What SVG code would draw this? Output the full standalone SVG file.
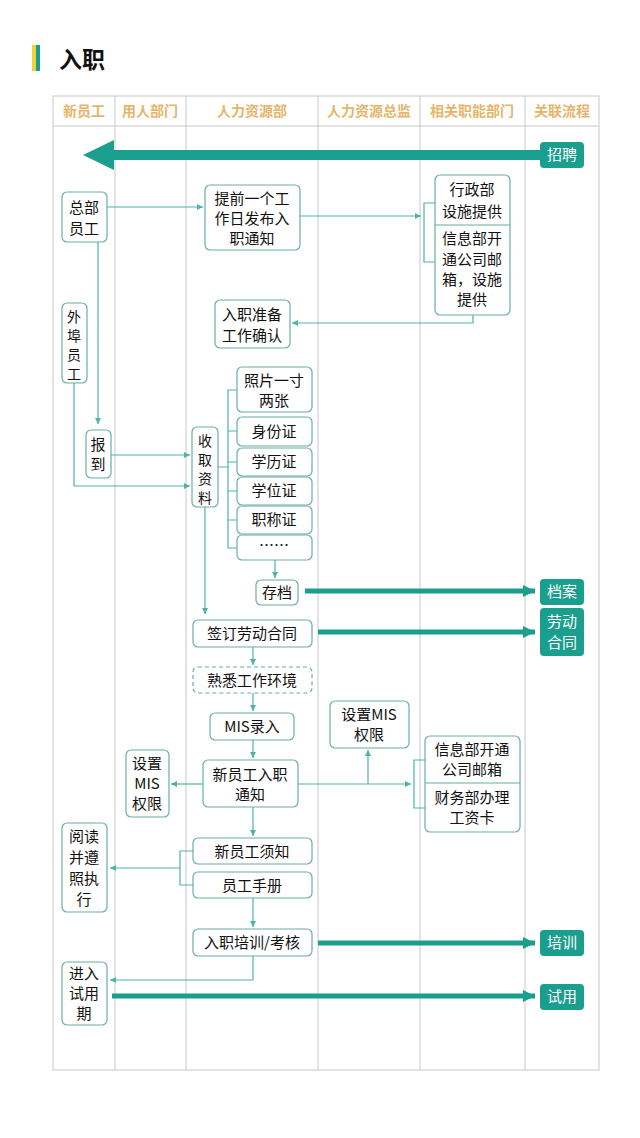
<svg xmlns="http://www.w3.org/2000/svg" width="640" height="1138" viewBox="0 0 640 1138">
<defs>
<linearGradient id="tg" x1="0" x2="1"><stop offset="0.5" stop-color="#f2d23a"/><stop offset="0.5" stop-color="#17a08c"/></linearGradient>
<marker id="a" markerWidth="8" markerHeight="8" refX="6" refY="3" orient="auto" markerUnits="userSpaceOnUse"><path d="M0,0 L6,3 L0,6 z" fill="#4fb3a8"/></marker>
<marker id="b" markerWidth="14" markerHeight="14" refX="12" refY="6" orient="auto" markerUnits="userSpaceOnUse"><path d="M0,0 L12,6 L0,12 z" fill="#1a9e8e"/></marker>
<style>
text{font-family:"Noto Sans CJK SC","Noto Sans",sans-serif;font-size:15px;fill:#111;text-anchor:middle}
.h{fill:#e5b56a;font-size:14px;font-weight:bold}
.n{fill:#fff;stroke:#6aaea4;stroke-width:1.2}
.v{font-size:14px}
.d{stroke-dasharray:4 3}
.bd{fill:#1a9e8e;stroke:none}
.bt{fill:#fff;font-size:15px}
.l{fill:none;stroke:#4fb3a8;stroke-width:1.2}
.t{fill:none;stroke:#1a9e8e;stroke-width:5}
.g{stroke:#c8c8c8;stroke-width:1;fill:none}
</style>
</defs>
<rect x="32" y="45" width="8" height="26" fill="url(#tg)"/>
<text x="82" y="68" style="font-size:23px;font-weight:bold">入职</text>
<g id="table">
<rect class="g" x="53" y="96" width="546" height="974"/>
<line class="g" x1="53" y1="126" x2="599" y2="126"/>
<line class="g" x1="115" y1="96" x2="115" y2="1070"/>
<line class="g" x1="186" y1="96" x2="186" y2="1070"/>
<line class="g" x1="318" y1="96" x2="318" y2="1070"/>
<line class="g" x1="420" y1="96" x2="420" y2="1070"/>
<line class="g" x1="525" y1="96" x2="525" y2="1070"/>
<text class="h" x="84" y="116">新员工</text>
<text class="h" x="150" y="116">用人部门</text>
<text class="h" x="252" y="116">人力资源部</text>
<text class="h" x="369" y="116">人力资源总监</text>
<text class="h" x="472" y="116">相关职能部门</text>
<text class="h" x="562" y="116">关联流程</text>
</g>
<g id="connectors">
<polygon points="540,150 114,150 114,140 83,155 114,170 114,160 540,160" fill="#1a9e8e"/>
<path class="l" d="M107,207 H203" marker-end="url(#a)"/>
<path class="l" d="M300,216 H421" marker-end="url(#a)"/>
<path class="l" d="M435,203 H424 V262 H435"/>
<path class="l" d="M473,315 V323 H292" marker-end="url(#a)"/>
<path class="l" d="M98,242 V424" marker-end="url(#a)"/>
<path class="l" d="M74,383 V486 H190" marker-end="url(#a)"/>
<path class="l" d="M111,455 H190" marker-end="url(#a)"/>
<path class="l" d="M218,467 H228 M237,390 H228 V548 H237 M228,431 H237 M228,462 H237 M228,491 H237 M228,520 H237"/>
<path class="l" d="M275,560 V578" marker-end="url(#a)"/>
<path class="l" d="M205,507 V614" marker-end="url(#a)"/>
<path class="l" d="M253,647 V665" marker-end="url(#a)"/>
<path class="l" d="M253,693 V711" marker-end="url(#a)"/>
<path class="l" d="M253,740 V758" marker-end="url(#a)"/>
<path class="l" d="M203,784 H171" marker-end="url(#a)"/>
<path class="l" d="M298,784 H411" marker-end="url(#a)"/>
<path class="l" d="M368,784 V750" marker-end="url(#a)"/>
<path class="l" d="M425,760 H414 V808 H425"/>
<path class="l" d="M253,807 V836" marker-end="url(#a)"/>
<path class="l" d="M193,851 H180 V885 H193 M180,868 H110" marker-end="url(#a)"/>
<path class="l" d="M253,898 V927" marker-end="url(#a)"/>
<path class="l" d="M253,956 V980 H110" marker-end="url(#a)"/>
<path class="t" d="M305,591 H535" marker-end="url(#b)"/>
<path class="t" d="M318,632 H535" marker-end="url(#b)"/>
<path class="t" d="M318,943 H535" marker-end="url(#b)"/>
<path class="t" d="M112,996 H535" marker-end="url(#b)"/>
</g>
<g id="zhaopin"><rect class="bd" x="540" y="142" width="44" height="26" rx="4"/><text class="bt" x="562" y="160">招聘</text></g>
<g id="dangan"><rect class="bd" x="540" y="579" width="44" height="26" rx="4"/><text class="bt" x="562" y="597">档案</text></g>
<g id="laodong"><rect class="bd" x="540" y="608" width="44" height="48" rx="4"/><text class="bt" x="562" y="627">劳动</text><text class="bt" x="562" y="648">合同</text></g>
<g id="peixun"><rect class="bd" x="540" y="930" width="44" height="26" rx="4"/><text class="bt" x="562" y="948">培训</text></g>
<g id="shiyong"><rect class="bd" x="540" y="984" width="44" height="26" rx="4"/><text class="bt" x="562" y="1002">试用</text></g>
<g id="zongbu"><rect class="n" x="62" y="192" width="45" height="50" rx="5"/><text x="84" y="213">总部</text><text x="84" y="234">员工</text></g>
<g id="tiqian"><rect class="n" x="205" y="185" width="95" height="65" rx="5"/><text x="252" y="204">提前一个工</text><text x="252" y="224">作日发布入</text><text x="252" y="244">职通知</text></g>
<g id="xingzheng"><rect class="n" x="435" y="175" width="75" height="140" rx="5"/><line class="n" x1="435" y1="225" x2="510" y2="225"/><text x="472" y="195">行政部</text><text x="472" y="217">设施提供</text><text x="472" y="244">信息部开</text><text x="472" y="265">通公司邮</text><text x="472" y="285">箱，设施</text><text x="472" y="305">提供</text></g>
<g id="zhunbei"><rect class="n" x="215" y="300" width="75" height="48" rx="5"/><text x="252" y="320">入职准备</text><text x="252" y="341">工作确认</text></g>
<g id="waibu"><rect class="n" x="62" y="303" width="25" height="80" rx="5"/><text class="v" x="74" y="322">外</text><text class="v" x="74" y="341">埠</text><text class="v" x="74" y="360">员</text><text class="v" x="74" y="379">工</text></g>
<g id="baodao"><rect class="n" x="86" y="430" width="25" height="48" rx="5"/><text x="98" y="450">报</text><text x="98" y="470">到</text></g>
<g id="shouqu"><rect class="n" x="192" y="427" width="26" height="80" rx="5"/><text class="v" x="205" y="446">收</text><text class="v" x="205" y="465">取</text><text class="v" x="205" y="484">资</text><text class="v" x="205" y="503">料</text></g>
<g id="zhaopian"><rect class="n" x="237" y="367" width="75" height="45" rx="5"/><text x="274" y="386">照片一寸</text><text x="274" y="406">两张</text></g>
<g id="shenfen"><rect class="n" x="237" y="417" width="75" height="29" rx="5"/><text x="274" y="437">身份证</text></g>
<g id="xueli"><rect class="n" x="237" y="448" width="75" height="28" rx="5"/><text x="274" y="467">学历证</text></g>
<g id="xuewei"><rect class="n" x="237" y="477" width="75" height="28" rx="5"/><text x="274" y="496">学位证</text></g>
<g id="zhicheng"><rect class="n" x="237" y="506" width="75" height="28" rx="5"/><text x="274" y="525">职称证</text></g>
<g id="more"><rect class="n" x="237" y="535" width="75" height="25" rx="5"/><text x="274" y="551">……</text></g>
<g id="cundang"><rect class="n" x="256" y="580" width="42" height="25" rx="5"/><text x="277" y="598">存档</text></g>
<g id="qianding"><rect class="n" x="193" y="620" width="119" height="27" rx="5"/><text x="252" y="639">签订劳动合同</text></g>
<g id="shuxi"><rect class="n d" x="193" y="667" width="119" height="26" rx="5"/><text x="252" y="686">熟悉工作环境</text></g>
<g id="mis"><rect class="n" x="210" y="713" width="84" height="27" rx="5"/><text x="252" y="732">MIS录入</text></g>
<g id="setmis2"><rect class="n" x="330" y="701" width="79" height="47" rx="5"/><text x="369" y="720">设置MIS</text><text x="369" y="740">权限</text></g>
<g id="tongzhi"><rect class="n" x="203" y="760" width="95" height="47" rx="5"/><text x="250" y="780">新员工入职</text><text x="250" y="800">通知</text></g>
<g id="setmis1"><rect class="n" x="126" y="750" width="43" height="67" rx="5"/><text x="147" y="769">设置</text><text x="147" y="789">MIS</text><text x="147" y="809">权限</text></g>
<g id="xinxi"><rect class="n" x="425" y="736" width="95" height="96" rx="5"/><line class="n" x1="425" y1="783" x2="520" y2="783"/><text x="472" y="755">信息部开通</text><text x="472" y="775">公司邮箱</text><text x="472" y="803">财务部办理</text><text x="472" y="823">工资卡</text></g>
<g id="xuzhi"><rect class="n" x="193" y="838" width="119" height="26" rx="5"/><text x="252" y="857">新员工须知</text></g>
<g id="shouce"><rect class="n" x="193" y="872" width="119" height="26" rx="5"/><text x="252" y="891">员工手册</text></g>
<g id="yuedu"><rect class="n" x="62" y="823" width="45" height="89" rx="5"/><text x="84" y="842">阅读</text><text x="84" y="863">并遵</text><text x="84" y="884">照执</text><text x="84" y="905">行</text></g>
<g id="peixunkh"><rect class="n" x="193" y="929" width="119" height="27" rx="5"/><text x="252" y="948">入职培训/考核</text></g>
<g id="jinru"><rect class="n" x="62" y="962" width="45" height="63" rx="5"/><text x="84" y="979">进入</text><text x="84" y="999">试用</text><text x="84" y="1019">期</text></g>
</svg>
